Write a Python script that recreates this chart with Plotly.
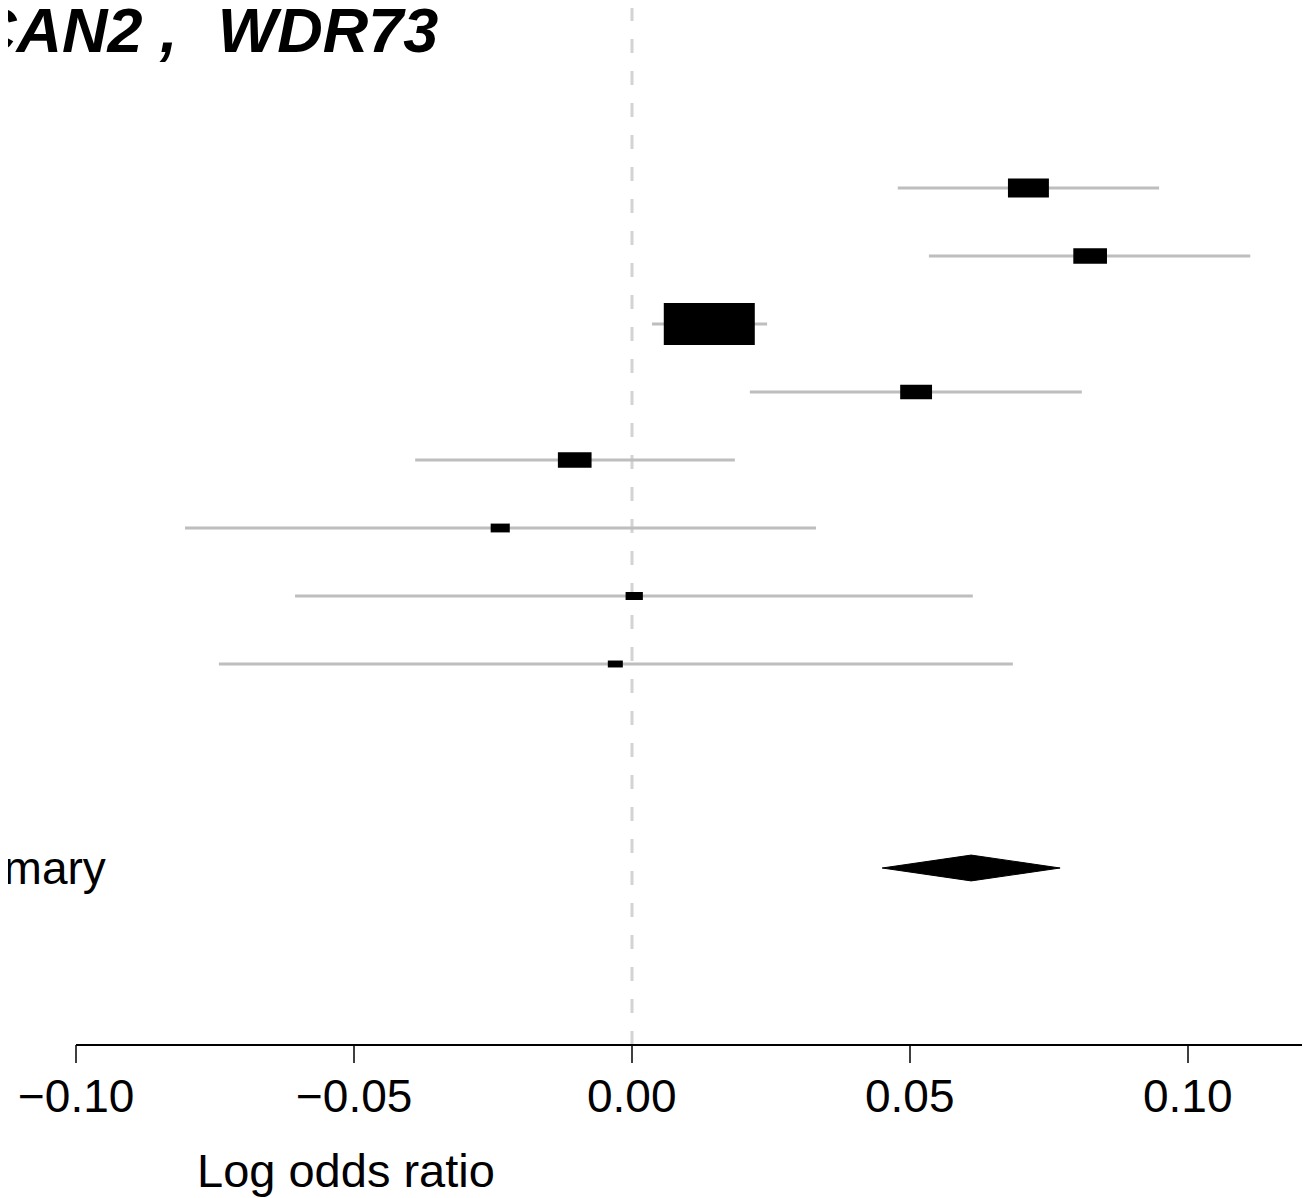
import plotly.graph_objects as go

# ---------------- data ----------------
rows = [1, 2, 3, 4, 5, 6, 7, 8]
estimates = [0.0713, 0.0824, 0.0139, 0.0511, -0.0103, -0.0237, 0.0004, -0.0030]
ci_lower = [0.0478, 0.0534, 0.0036, 0.0212, -0.0390, -0.0804, -0.0606, -0.0743]
ci_upper = [0.0948, 0.1112, 0.0243, 0.0809, 0.0185, 0.0331, 0.0613, 0.0685]
weights = [0.45, 0.37, 1.00, 0.35, 0.37, 0.21, 0.19, 0.165]
row_labels = ["", "", "", "", "0", "", "", ""]

summary_row = 11
summary_est = 0.0610
summary_lower = 0.0450
summary_upper = 0.0770
summary_label = "Summary"

tick_vals = [-0.10, -0.05, 0.00, 0.05, 0.10]
tick_text = ["\u22120.10", "\u22120.05", "0.00", "0.05", "0.10"]
x_title = "Log odds ratio"
title_text = "CAN2\u00a0,\u00a0\u00a0\u200aWDR73"

# ---------------- geometry / style ----------------
W, H = 1310, 1198
OFF = 8                      # page offset of the figure (default body margin)
PX_PER_UNIT = 5560.0
PLOT_BOTTOM = 1045 - OFF     # figure pixel row of the x axis line
X_RANGE = [-0.10 - (76 - OFF) / PX_PER_UNIT, -0.10 + (W + OFF - 76) / PX_PER_UNIT]
ROW_PX = 68.0
Y_RANGE = [1 + (PLOT_BOTTOM + OFF - 188) / ROW_PX, 1 - (188 - OFF) / ROW_PX]
BOX_W = 0.01637             # data units for weight 1
BOX_H = 0.618               # rows for weight 1
DIAMOND_H = 0.19
TICK_LEN = 18
FONT = "Liberation Sans, Arial, Helvetica, sans-serif"


def py(pix):
    """reference page pixel row -> paper y"""
    return (PLOT_BOTTOM - (pix - OFF)) / PLOT_BOTTOM


def px(pix):
    return (pix - OFF) / W


fig = go.Figure()
shapes = []

# reference line at 0
shapes.append(dict(type="line", xref="x", yref="paper", x0=0, x1=0, y0=0, y1=1,
                   line=dict(color="#d3d3d3", width=3, dash="14px,18px"), layer="below"))

# confidence intervals
for r, lo, hi in zip(rows, ci_lower, ci_upper):
    shapes.append(dict(type="line", xref="x", yref="y", x0=lo, x1=hi, y0=r, y1=r,
                       line=dict(color="#bebebe", width=3)))

# boxes
for r, est, w in zip(rows, estimates, weights):
    shapes.append(dict(type="rect", xref="x", yref="y",
                       x0=est - BOX_W * w / 2, x1=est + BOX_W * w / 2,
                       y0=r - BOX_H * w / 2, y1=r + BOX_H * w / 2,
                       fillcolor="black", line=dict(width=0)))

# x axis line (from first tick to right edge) and tick marks
shapes.append(dict(type="line", xref="x", yref="paper", x0=tick_vals[0], x1=X_RANGE[1] + 0.01,
                   y0=0, y1=0, line=dict(color="black", width=2)))
for tv in tick_vals:
    shapes.append(dict(type="line", xref="x", yref="paper", x0=tv, x1=tv,
                       y0=0, y1=-TICK_LEN / PLOT_BOTTOM, line=dict(color="black", width=1.5)))

# summary diamond
fig.add_trace(go.Scatter(
    x=[summary_lower, summary_est, summary_upper, summary_est, summary_lower],
    y=[summary_row, summary_row - DIAMOND_H, summary_row, summary_row + DIAMOND_H, summary_row],
    mode="lines", fill="toself", fillcolor="black", line=dict(color="black", width=1),
    hoverinfo="skip", showlegend=False))

annotations = []
for r, lab in zip(rows, row_labels):
    if lab:
        annotations.append(dict(text=lab, xref="paper", yref="y", x=px(11), y=r,
                                xanchor="right", yanchor="middle", showarrow=False,
                                font=dict(family=FONT, size=46, color="black")))
annotations.append(dict(text=summary_label, xref="paper", yref="y", x=px(108), y=summary_row,
                        xanchor="right", yanchor="middle", showarrow=False,
                        font=dict(family=FONT, size=46, color="black")))
# tick labels placed on the axis scale
for tv, tt in zip(tick_vals, tick_text):
    annotations.append(dict(text=tt, xref="x", yref="paper", x=tv, y=py(1096),
                            xanchor="center", yanchor="middle", showarrow=False,
                            font=dict(family=FONT, size=46, color="black")))
annotations.append(dict(text=x_title, xref="paper", yref="paper", x=px(346), y=py(1170),
                        xanchor="center", yanchor="middle", showarrow=False,
                        font=dict(family=FONT, size=47, color="black")))
annotations.append(dict(text="<b><i>" + title_text + "</i></b>", xref="paper", yref="paper",
                        x=px(440), y=py(30), xanchor="right", yanchor="middle",
                        showarrow=False, font=dict(family=FONT, size=63, color="black")))

fig.update_layout(
    width=W, height=H,
    margin=dict(l=0, r=0, t=0, b=H - PLOT_BOTTOM),
    paper_bgcolor="white", plot_bgcolor="white",
    shapes=shapes, annotations=annotations,
    showlegend=False,
    xaxis=dict(range=X_RANGE, showgrid=False, zeroline=False, showline=False,
               tickmode="array", tickvals=tick_vals, ticktext=tick_text,
               ticks="", showticklabels=False, fixedrange=True),
    yaxis=dict(range=Y_RANGE, showgrid=False, zeroline=False, showline=False,
               showticklabels=False, ticks="", fixedrange=True),
)

fig.write_html("out.html")
